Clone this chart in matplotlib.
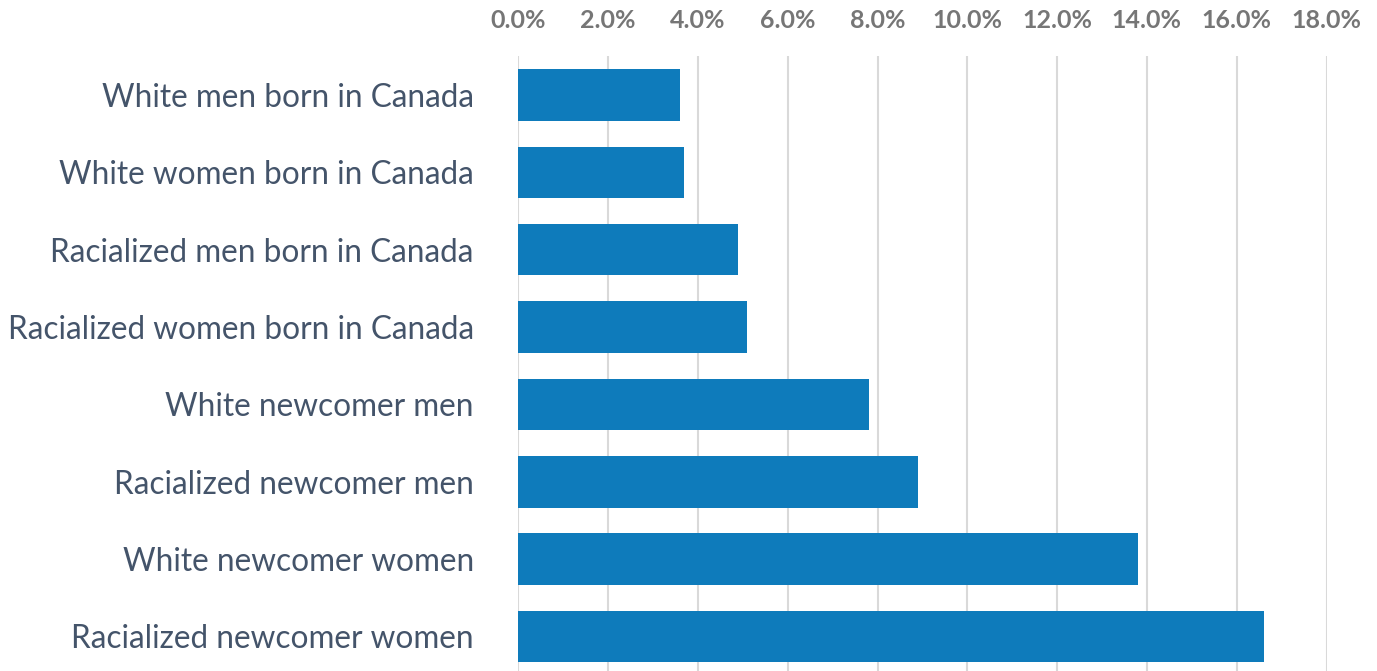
import matplotlib
matplotlib.use("Agg")
import matplotlib.pyplot as plt
from matplotlib.ticker import FuncFormatter

categories = [
    "White men born in Canada",
    "White women born in Canada",
    "Racialized men born in Canada",
    "Racialized women born in Canada",
    "White newcomer men",
    "Racialized newcomer men",
    "White newcomer women",
    "Racialized newcomer women",
]
values = [3.6, 3.7, 4.9, 5.1, 7.8, 8.9, 13.8, 16.6]
xticks = [0, 2, 4, 6, 8, 10, 12, 14, 16, 18]

bar_color = "#0e7bbb"
label_color = "#44546a"
tick_color = "#767676"
grid_color = "#d9d9d9"

fig = plt.figure(figsize=(13.77, 6.71), dpi=100)
ax = fig.add_axes([518.3 / 1377, 0, (1326.5 - 518.3) / 1377, (671 - 56) / 671])

y = list(range(len(categories)))
ax.barh(y, values, height=0.665, color=bar_color, zorder=3)
ax.set_ylim(7.446, -0.504)
ax.set_xlim(0, 18)

ax.set_xticks(xticks)
ax.xaxis.set_major_formatter(FuncFormatter(lambda v, p: f"{v:.1f}%"))
ax.xaxis.tick_top()
ax.tick_params(axis="x", length=0, pad=17, labelsize=18, labelcolor=tick_color)
for lbl in ax.get_xticklabels():
    lbl.set_fontweight("bold")
    lbl.set_family(["Lato", "DejaVu Sans"])

ax.set_yticks(y)
ax.set_yticklabels(categories, fontsize=22.7, color=label_color, family=["Lato", "DejaVu Sans"])
ax.tick_params(axis="y", length=0, pad=32)

ax.grid(axis="x", color=grid_color, linewidth=1.5, zorder=0)
for s in ax.spines.values():
    s.set_visible(False)

fig.savefig("out.png", dpi=100)
